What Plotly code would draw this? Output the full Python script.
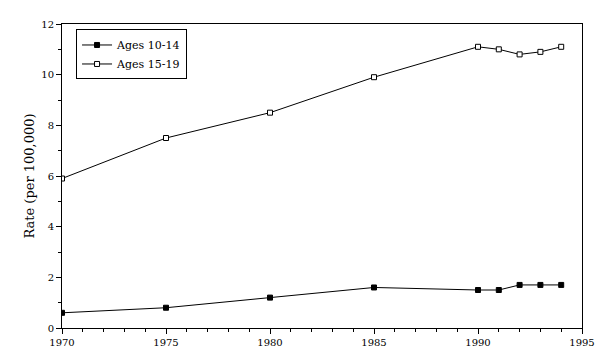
import plotly.graph_objects as go

years = [1970, 1975, 1980, 1985, 1990, 1991, 1992, 1993, 1994]
ages_10_14 = [0.6, 0.8, 1.2, 1.6, 1.5, 1.5, 1.7, 1.7, 1.7]
ages_15_19 = [5.9, 7.5, 8.5, 9.9, 11.1, 11.0, 10.8, 10.9, 11.1]
x_ticks = [1970, 1975, 1980, 1985, 1990, 1995]
y_ticks = [0, 2, 4, 6, 8, 10, 12]

font = "DejaVu Serif"

fig = go.Figure()
fig.add_trace(go.Scatter(
    x=years, y=ages_10_14, mode="lines+markers", name="Ages 10-14",
    line=dict(color="black", width=1),
    marker=dict(symbol="square", size=5, color="black", line=dict(color="black", width=1)),
))
fig.add_trace(go.Scatter(
    x=years, y=ages_15_19, mode="lines+markers", name="Ages 15-19",
    line=dict(color="black", width=1),
    marker=dict(symbol="square", size=5, color="white", line=dict(color="black", width=1)),
))

axis_common = dict(
    showgrid=False, zeroline=False, showline=True, linecolor="black", linewidth=1,
    ticks="outside", ticklen=5, tickcolor="black", mirror=True,
    tickfont=dict(family=font, size=10, color="black"),
)
fig.update_layout(
    width=612, height=361,
    margin=dict(l=54, r=38, t=10, b=41),
    paper_bgcolor="white", plot_bgcolor="white",
    font=dict(family=font, size=10, color="black"),
    xaxis=dict(range=[1970, 1995], tickvals=x_ticks,
               minor=dict(dtick=1, ticks="outside", ticklen=3, tickcolor="black"),
               **axis_common),
    yaxis=dict(range=[0, 12], tickvals=y_ticks,
               minor=dict(dtick=1, ticks="outside", ticklen=3, tickcolor="black"),
               title=dict(text="Rate (per 100,000)", font=dict(family=font, size=13, color="black"), standoff=3),
               **axis_common),
    legend=dict(x=0.027, y=0.982, xanchor="left", yanchor="top",
                bordercolor="black", borderwidth=1, bgcolor="white",
                font=dict(family=font, size=11, color="black"),
                itemwidth=30, tracegroupgap=0),
    showlegend=True,
)

fig.write_html("out.html")
